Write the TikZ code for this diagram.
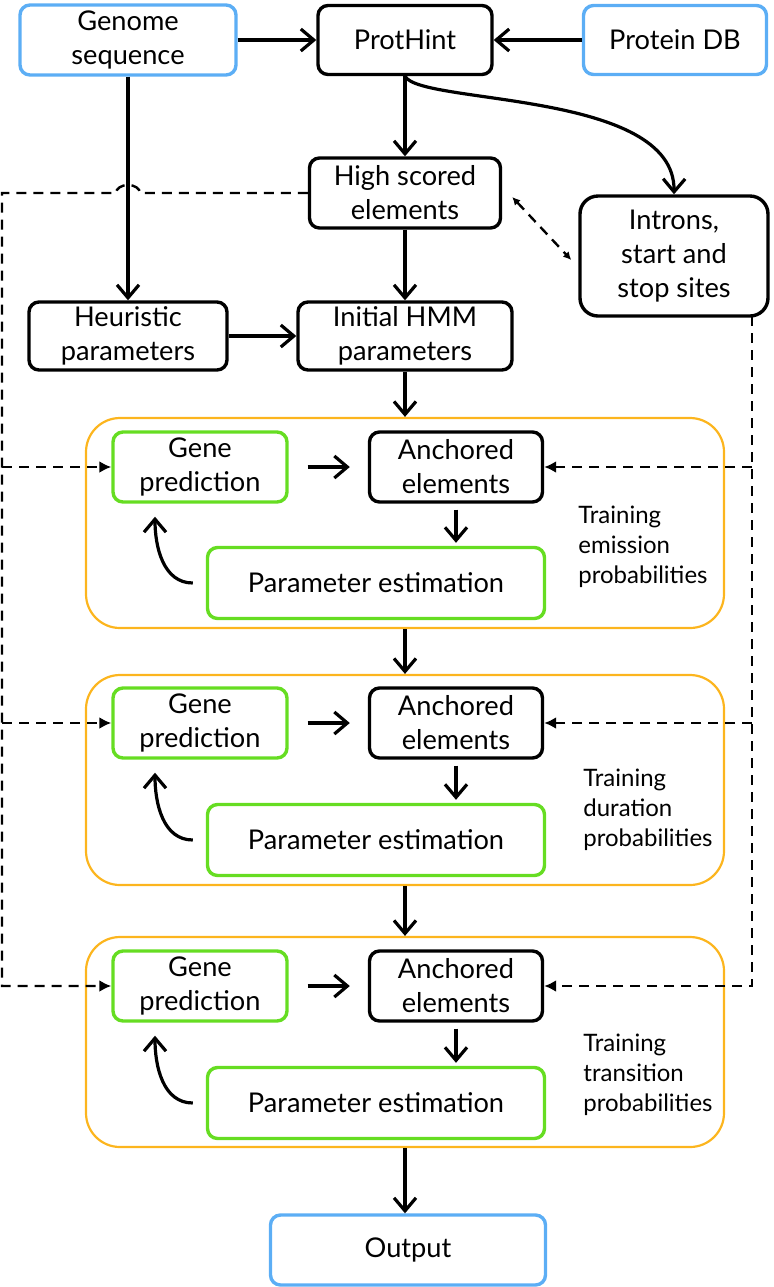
\documentclass[tikz,border=0pt]{standalone}
\usepackage{fontspec}
\setmainfont{Lato}
\usetikzlibrary{arrows.meta}
\definecolor{boxblue}{RGB}{92,174,245}
\definecolor{boxgreen}{RGB}{102,221,34}
\definecolor{boxorange}{RGB}{252,181,30}
\begin{document}
\begin{tikzpicture}[x=0.5pt,y=-0.5pt]
\tikzstyle{every node}+=[inner sep=0pt]
\tikzstyle{plainbox}=[draw,line width=1.7pt,rounded corners=5pt,align=center,font=\fontsize{13.6}{17}\selectfont]
\tikzstyle{blkbox}=[plainbox,draw=black]
\tikzstyle{bluebox}=[plainbox,draw=boxblue]
\tikzstyle{grnbox}=[plainbox,draw=boxgreen]
\tikzstyle{stagebox}=[draw=boxorange,line width=1.1pt,rounded corners=17pt,minimum width=319pt,minimum height=105pt]
\tikzstyle{stagelbl}=[anchor=west,align=left,font=\fontsize{12}{15}\selectfont]
\tikzstyle{flow}=[line width=1.6pt,-{Straight Barb[length=6.5pt,width=11pt,line width=1.6pt]}]
\tikzstyle{dflow}=[line width=1.2pt,dash pattern=on 5pt off 3.5pt,-{Latex[length=6pt,width=6pt]}]
\useasboundingbox (0,0) rectangle (774,1287);
\node[bluebox,minimum width=108pt,minimum height=35pt] (genome) at (128,40) {Genome\\sequence};
\node[blkbox,minimum width=87pt,minimum height=34.5pt] (prothint) at (405,40) {ProtHint};
\node[bluebox,minimum width=91.5pt,minimum height=34.5pt] (protdb) at (675,40) {Protein DB};
\node[blkbox,minimum width=95.5pt,minimum height=35pt] (high) at (405,193) {High scored\\elements};
\node[blkbox,minimum width=94pt,minimum height=60pt,rounded corners=9pt] (introns) at (674,256) {Introns,\\start and\\stop sites};
\node[blkbox,minimum width=99pt,minimum height=34pt] (heur) at (128,336) {Heuristic\\parameters};
\node[blkbox,minimum width=107pt,minimum height=34pt] (init) at (405,336) {Initial HMM\\parameters};
\node[stagebox] (stage1) at (405,523) {};
\node[grnbox,minimum width=87pt,minimum height=35pt] (gene1) at (200,467) {Gene\\prediction};
\node[blkbox,minimum width=86.5pt,minimum height=35pt] (anch1) at (456,467) {Anchored\\elements};
\node[grnbox,minimum width=168.5pt,minimum height=35.5pt] (param1) at (376,583) {Parameter estimation};
\node[stagelbl] (lbl1) at (578,547) {Training\\emission\\probabilities};
\node[stagebox] (stage2) at (405,780) {};
\node[grnbox,minimum width=87pt,minimum height=35pt] (gene2) at (200,723) {Gene\\prediction};
\node[blkbox,minimum width=86.5pt,minimum height=35pt] (anch2) at (456,723) {Anchored\\elements};
\node[grnbox,minimum width=168.5pt,minimum height=35.5pt] (param2) at (376,840) {Parameter estimation};
\node[stagelbl] (lbl2) at (583,810) {Training\\duration\\probabilities};
\node[stagebox] (stage3) at (405,1042) {};
\node[grnbox,minimum width=87pt,minimum height=35pt] (gene3) at (200,986) {Gene\\prediction};
\node[blkbox,minimum width=86.5pt,minimum height=35pt] (anch3) at (456,986) {Anchored\\elements};
\node[grnbox,minimum width=168.5pt,minimum height=35.5pt] (param3) at (376,1103) {Parameter estimation};
\node[stagelbl] (lbl3) at (583,1075) {Training\\transition\\probabilities};
\node[bluebox,minimum width=137.5pt,minimum height=35pt] (output) at (408,1250) {Output};
\coordinate (lbus) at (2,193);
\coordinate (rbus) at (752,316);
\draw[flow] (genome.east) -- (prothint.west);
\draw[flow] (protdb.west) -- (prothint.east);
\draw[flow] (prothint.south) -- (high.north);
\draw[flow] (prothint.south) .. controls (420,105) and (675,90) .. (introns.north);
\draw[flow] (genome.south) -- (heur.north);
\draw[flow] (high.south) -- (init.north);
\draw[flow] (heur.east) -- (init.west);
\draw[flow] (init.south) -- (stage1.north);
\draw[flow] (stage1.south) -- (stage2.north);
\draw[flow] (stage2.south) -- (stage3.north);
\draw[flow] (stage3.south) -- (stage3.south |- output.north);
\draw[flow,shorten <=9.5pt,shorten >=9pt] (gene1.east) -- (anch1.west);
\draw[flow,shorten <=3pt,shorten >=1.5pt] (anch1.south) -- (anch1.south |- param1.north);
\draw[flow] ([xshift=-6.5pt]param1.west) to[out=180,in=-90] ([xshift=-22.5pt,yshift=-6.5pt]gene1.south);
\draw[flow,shorten <=9.5pt,shorten >=9pt] (gene2.east) -- (anch2.west);
\draw[flow,shorten <=3pt,shorten >=1.5pt] (anch2.south) -- (anch2.south |- param2.north);
\draw[flow] ([xshift=-6.5pt]param2.west) to[out=180,in=-90] ([xshift=-22.5pt,yshift=-6.5pt]gene2.south);
\draw[flow,shorten <=9.5pt,shorten >=9pt] (gene3.east) -- (anch3.west);
\draw[flow,shorten <=3pt,shorten >=1.5pt] (anch3.south) -- (anch3.south |- param3.north);
\draw[flow] ([xshift=-6.5pt]param3.west) to[out=180,in=-90] ([xshift=-22.5pt,yshift=-6.5pt]gene3.south);
\draw[dflow] (high.west) -- (140,193) arc[start angle=0,end angle=-180,x radius=12,y radius=8] -- (lbus) -- (lbus |- gene3.west) -- (gene3.west);
\draw[dflow] (lbus |- gene1.west) -- (gene1.west);
\draw[dflow] (lbus |- gene2.west) -- (gene2.west);
\draw[dflow] (rbus) -- (rbus |- anch3.east) -- (anch3.east);
\draw[dflow] (rbus |- anch1.east) -- (anch1.east);
\draw[dflow] (rbus |- anch2.east) -- (anch2.east);
\draw[dflow,{Latex[length=4pt,width=4pt]}-{Latex[length=4pt,width=4pt]}] ([shift={(5pt,-2pt)}]high.east) -- ([shift={(-3.5pt,-2pt)}]introns.west);
\end{tikzpicture}
\end{document}
